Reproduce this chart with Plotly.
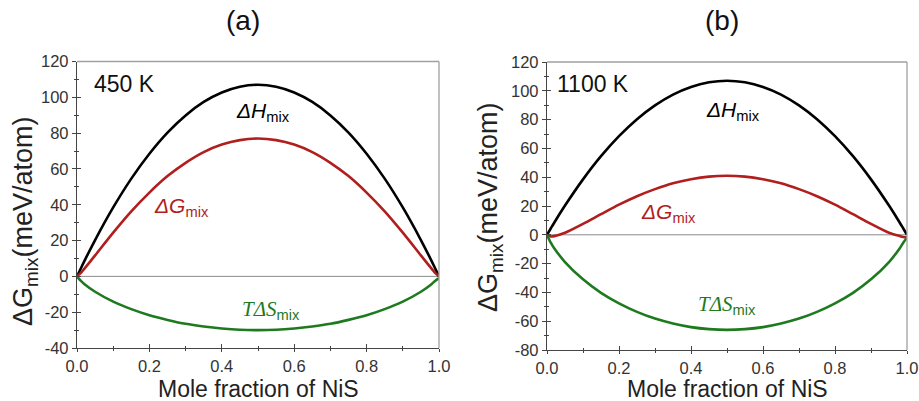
import plotly.graph_objects as go

# ---- data ----
x_frac = [0.0, 0.01, 0.02, 0.05, 0.10, 0.15, 0.20, 0.25, 0.30, 0.35, 0.40, 0.45, 0.50,
          0.55, 0.60, 0.65, 0.70, 0.75, 0.80, 0.85, 0.90, 0.95, 0.98, 0.99, 1.0]

dH = [0.0, 4.2, 8.4, 20.3, 38.5, 54.6, 68.5, 80.3, 89.9, 97.4, 102.7, 105.9, 107.0,
      105.9, 102.7, 97.4, 89.9, 80.3, 68.5, 54.6, 38.5, 20.3, 8.4, 4.2, 0.0]

TdS_450 = [0.0, -2.4, -4.2, -8.6, -14.1, -18.3, -21.7, -24.3, -26.5, -28.0, -29.1, -29.8, -30.0,
           -29.8, -29.1, -28.0, -26.5, -24.3, -21.7, -18.3, -14.1, -8.6, -4.2, -2.4, -1.0]
dG_450 = [0.0, 1.8, 4.2, 11.7, 24.4, 36.3, 46.8, 56.0, 63.4, 69.4, 73.6, 76.1, 77.0,
          76.1, 73.6, 69.4, 63.4, 56.0, 46.8, 36.3, 24.4, 11.7, 4.2, 1.8, 0.0]

TdS_1100 = [0.0, -5.3, -9.3, -18.9, -30.9, -40.3, -47.6, -53.5, -58.2, -61.6, -64.1, -65.5, -66.0,
            -65.5, -64.1, -61.6, -58.2, -53.5, -47.6, -40.3, -30.9, -18.9, -9.3, -5.3, -2.0]
dG_1100 = [0.0, -1.1, -0.9, 1.4, 7.6, 14.3, 20.9, 26.8, 31.7, 35.8, 38.6, 40.4, 41.0,
           40.4, 38.6, 35.8, 31.7, 26.8, 20.9, 14.3, 7.6, 1.4, -0.9, -1.6, -2.0]

panel_titles = ["(a)", "(b)"]
temps = ["450 K", "1100 K"]
x_title = "Mole fraction of NiS"
y_title = "ΔG<sub>mix</sub>(meV/atom)"
x_ticks = [0.0, 0.2, 0.4, 0.6, 0.8, 1.0]
x_tick_text = ["0.0", "0.2", "0.4", "0.6", "0.8", "1.0"]
y_ticks_a = [-40, -20, 0, 20, 40, 60, 80, 100, 120]
y_tick_text_a = ["-40", "-20", "0", "20", "40", "60", "80", "100", "120"]
y_ticks_b = [-80, -60, -40, -20, 0, 20, 40, 60, 80, 100, 120]
y_tick_text_b = ["-80", "-60", "-40", "-20", "0", "20", "40", "60", "80", "100", "120"]
y_range_a = [-40, 120]
y_range_b = [-80, 120]

BLACK = "#000000"
RED = "#b01e1e"
GREEN = "#1f7a1f"
FONT = "Liberation Sans, Arial, sans-serif"

fig = go.Figure()

def add_panel(xa, ya, H, G, S):
    for yv, col in [(H, BLACK), (G, RED), (S, GREEN)]:
        fig.add_trace(go.Scatter(x=x_frac, y=yv, mode="lines",
                                 line=dict(color=col, width=2.6, shape="spline", smoothing=0.8),
                                 xaxis=xa, yaxis=ya, showlegend=False, hoverinfo="skip"))

add_panel("x", "y", dH, dG_450, TdS_450)
add_panel("x2", "y2", dH, dG_1100, TdS_1100)

dom_xa = [77 / 919, 439 / 919]
dom_xb = [547 / 919, 907 / 919]
dom_ya = [1 - 348 / 401, 1 - 61.5 / 401]
dom_yb = [1 - 350 / 401, 1 - 62 / 401]

AX = "#444444"
tickfont = dict(family=FONT, size=16.5, color="#333333")
axis_line = dict(showline=True, linecolor=AX, linewidth=1.3, mirror=False,
                 showgrid=False, zeroline=False, automargin=False)

def xaxis_cfg(dom, anchor):
    return dict(domain=dom, anchor=anchor, range=[0, 1], tickvals=x_ticks, ticktext=x_tick_text,
                ticks="outside", ticklen=3, tickwidth=1, tickcolor=AX,
                minor=dict(dtick=0.1, ticks="outside", ticklen=2, tickcolor=AX),
                tickfont=tickfont, **axis_line)

def yaxis_cfg(dom, anchor, rng, tv, tt):
    return dict(domain=dom, anchor=anchor, range=rng, tickvals=tv, ticktext=tt,
                ticks="outside", ticklen=4, tickwidth=1, tickcolor=AX,
                minor=dict(dtick=10, ticks="outside", ticklen=2, tickcolor=AX),
                tickfont=tickfont, **axis_line)

def overlay_x(dom, anchor, over):
    return dict(domain=dom, anchor=anchor, overlaying=over, range=[0, 1], tickvals=x_ticks,
                showticklabels=False, ticks="inside", ticklen=4, tickcolor=AX,
                minor=dict(dtick=0.1, ticks="inside", ticklen=2, tickcolor=AX),
                showline=False, showgrid=False, zeroline=False, side="bottom", automargin=False)

def overlay_y(dom, anchor, over, rng, tv):
    return dict(domain=dom, anchor=anchor, overlaying=over, range=rng, tickvals=tv,
                showticklabels=False, ticks="inside", ticklen=4, tickcolor=AX,
                minor=dict(dtick=10, ticks="inside", ticklen=2, tickcolor=AX),
                showline=False, showgrid=False, zeroline=False, side="left", automargin=False)

fig.update_layout(
    width=919, height=401,
    margin=dict(l=0, r=0, t=0, b=0, autoexpand=False),
    paper_bgcolor="white", plot_bgcolor="white",
    xaxis=xaxis_cfg(dom_xa, "y"),
    yaxis=yaxis_cfg(dom_ya, "x", y_range_a, y_ticks_a, y_tick_text_a),
    xaxis2=xaxis_cfg(dom_xb, "y2"),
    yaxis2=yaxis_cfg(dom_yb, "x2", y_range_b, y_ticks_b, y_tick_text_b),
    xaxis3=overlay_x(dom_xa, "y", "x"),
    yaxis3=overlay_y(dom_ya, "x", "y", y_range_a, y_ticks_a),
    xaxis4=overlay_x(dom_xb, "y2", "x2"),
    yaxis4=overlay_y(dom_yb, "x2", "y2", y_range_b, y_ticks_b),
)

# dummy traces so overlay axes render
fig.add_trace(go.Scatter(x=[None], y=[None], xaxis="x3", yaxis="y3", showlegend=False))
fig.add_trace(go.Scatter(x=[None], y=[None], xaxis="x4", yaxis="y4", showlegend=False))

# box (top/right gray border) and zero lines
for xr, yr in [("x", "y"), ("x2", "y2")]:
    fig.add_shape(type="line", xref=xr + " domain", yref=yr + " domain", x0=0, x1=1, y0=1, y1=1,
                  line=dict(color="#a0a0a0", width=1.3))
    fig.add_shape(type="line", xref=xr + " domain", yref=yr + " domain", x0=1, x1=1, y0=0, y1=1,
                  line=dict(color="#a0a0a0", width=1.3))
    fig.add_shape(type="line", xref=xr + " domain", yref=yr, x0=0, x1=1, y0=0, y1=0,
                  line=dict(color="#8a8a8a", width=1), layer="below")

ann = []
# panel titles
for t, px in zip(panel_titles, [243, 722]):
    ann.append(dict(text=t, x=px / 919, y=1 - 21 / 401, xref="paper", yref="paper",
                    xanchor="center", yanchor="middle",
                    showarrow=False, font=dict(family=FONT, size=28, color="#111111")))
# axis titles
for px in [258, 727]:
    ann.append(dict(text=x_title, x=px / 919, y=1 - 389 / 401, xref="paper", yref="paper",
                    xanchor="center", yanchor="middle", showarrow=False,
                    font=dict(family=FONT, size=23, color="#222222")))
for px, py in [(25, 222), (490, 208)]:
    ann.append(dict(text=y_title, x=px / 919, y=1 - py / 401, xref="paper", yref="paper",
                    xanchor="center", yanchor="middle", textangle=-90, showarrow=False,
                    font=dict(family=FONT, size=27, color="#222222")))
# temperature labels
ann.append(dict(text=temps[0], x=0.042, y=0.975, xref="x domain", yref="y domain", xanchor="left",
                yanchor="top", showarrow=False, font=dict(family=FONT, size=23, color="#111111")))
ann.append(dict(text=temps[1], x=0.022, y=0.975, xref="x2 domain", yref="y2 domain", xanchor="left",
                yanchor="top", showarrow=False, font=dict(family=FONT, size=23, color="#111111")))

H_txt = "<i>ΔH</i><sub>mix</sub>"
G_txt = "<i>ΔG</i><sub>mix</sub>"
S_txt = "<span style='font-family:Liberation Serif'><i>TΔS</i></span><sub>mix</sub>"

for xr, yr, pos in [("x", "y", [(0.515, 92), (0.29, 39), (0.535, -19)]),
                    ("x2", "y2", [(0.516, 86), (0.338, 15), (0.50, -49)])]:
    for (px, py), txt, col in zip(pos, [H_txt, G_txt, S_txt], [BLACK, RED, GREEN]):
        ann.append(dict(text=txt, x=px, y=py, xref=xr, yref=yr, showarrow=False,
                        xanchor="center", yanchor="middle",
                        font=dict(family=FONT, size=21, color=col)))

fig.update_layout(annotations=ann)

fig.write_html("out.html", config={"displayModeBar": False},
               post_script="document.body.style.margin='0';document.body.style.overflow='hidden';")
